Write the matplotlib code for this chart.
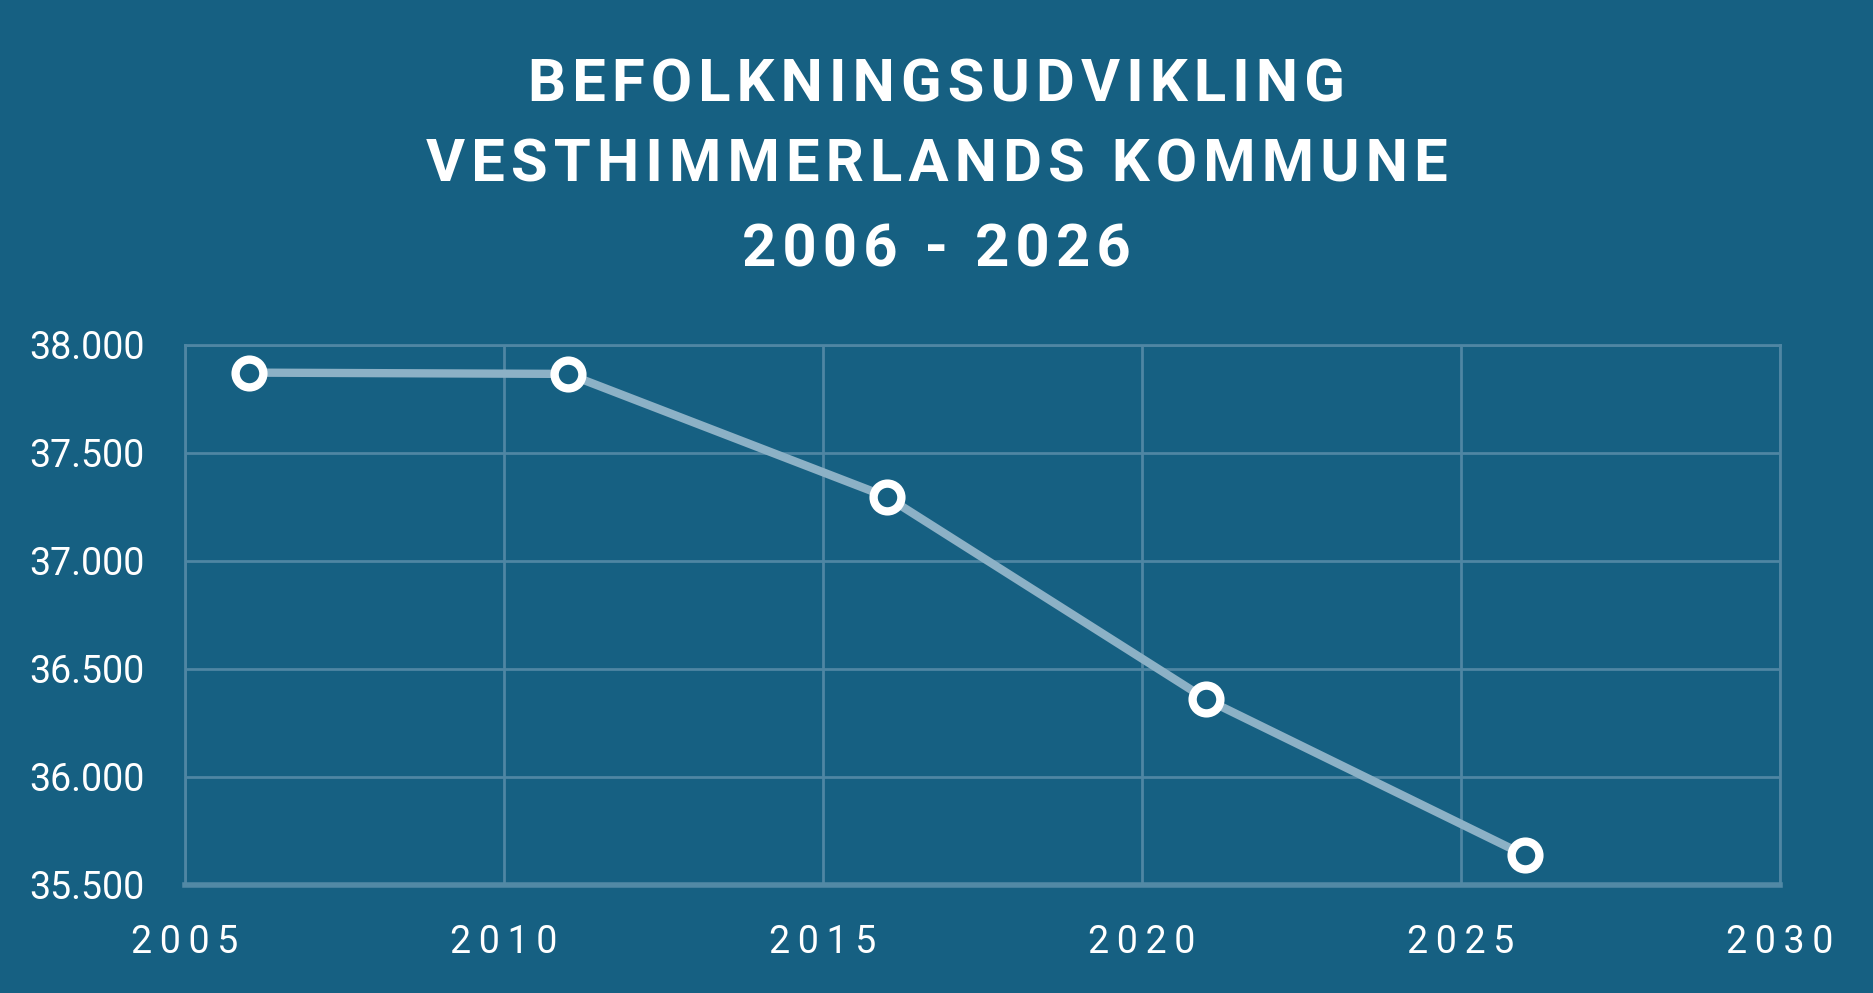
import matplotlib.pyplot as plt

# population, Vesthimmerlands Kommune
years = [2006, 2011, 2016, 2021, 2026]
population = [37872, 37866, 37297, 36361, 35638]

x_ticks = [2005, 2010, 2015, 2020, 2025, 2030]
y_ticks = [35500, 36000, 36500, 37000, 37500, 38000]
title_lines = ["BEFOLKNINGSUDVIKLING", "VESTHIMMERLANDS KOMMUNE", "2006 - 2026"]

bg = "#166082"
line_col = "#8cb1c6"
grid_col = "#4f86a3"
fonts = ["Roboto", "DejaVu Sans"]

def spaced(s, sep="\u2009"):
    return sep.join(s)

fig = plt.figure(figsize=(18.73, 9.93), dpi=100, facecolor=bg)
ax = fig.add_axes([0.0988, 0.1088, 0.8515, 0.5438])
ax.set_facecolor(bg)

ax.plot(years, population, color=line_col, linewidth=6, zorder=3,
        marker="o", markersize=20, markerfacecolor=bg,
        markeredgecolor="white", markeredgewidth=6, clip_on=False)

ax.set_xlim(2005, 2030)
ax.set_ylim(35500, 38000)
ax.set_xticks(x_ticks)
ax.set_yticks(y_ticks)
ax.set_xticklabels([spaced(str(t)) for t in x_ticks], family=fonts)
ax.set_yticklabels([f"{t:,}".replace(",", ".") for t in y_ticks], family=fonts)
ax.tick_params(axis="both", length=0, colors="white", labelsize=27)
ax.tick_params(axis="y", pad=29)
ax.tick_params(axis="x", pad=28)

ax.grid(True, color=grid_col, linewidth=2)
for side in ["top", "left", "right"]:
    ax.spines[side].set_color(grid_col)
    ax.spines[side].set_linewidth(2)
ax.spines["bottom"].set_color("#5289a5")
ax.spines["bottom"].set_linewidth(4)
ax.set_axisbelow(True)

title_y = [0.914, 0.833, 0.748]
for txt, ty in zip(title_lines, title_y):
    fig.text(0.5, ty, spaced(txt, "\u200a"), ha="center", va="center", color="white",
             fontsize=43, fontweight="bold", family=fonts)

plt.savefig("out.png", facecolor=bg)
